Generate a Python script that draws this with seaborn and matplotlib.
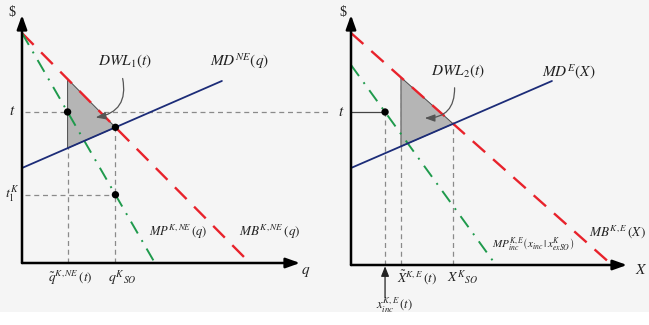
import numpy as np
import pandas as pd
import matplotlib
matplotlib.use("Agg")
import matplotlib.pyplot as plt
from matplotlib.patches import Rectangle
import seaborn as sns

# ---------------- data (axis units 0..10) ----------------
# left panel: q market
mb1_intercept, mb1_qmax = 9.27, 8.2      # MB^{K,NE}(q)
mp1_intercept, mp1_qmax = 9.27, 4.78     # MP^{K,NE}(q)
md1_start, md1_end_q, md1_end_v = 3.83, 7.19, 7.34   # MD^{NE}(q)
t1_level = 6.09                          # tax t
# right panel: X market
mb2_intercept, mb2_xmax = 9.28, 9.46     # MB^{K,E}(X)
mp2_intercept, mp2_xmax = 8.0, 5.25      # MP^{K,E}_inc
md2_start, md2_end_x, md2_end_v = 3.88, 7.28, 7.36   # MD^E(X)
t2_level = 6.12
x_tilde2 = 1.81                          # tilde X^{K,E}(t)

sns.set_theme(style="white")
plt.rcParams["font.family"] = ["Liberation Serif", "DejaVu Serif"]
plt.rcParams["mathtext.fontset"] = "stix"

RED = "#e8222b"
GREEN = "#1f9a4c"
BLUE = "#1c2c78"
GUIDE = "#8a8a8a"
BG = "#f5f5f5"

fig = plt.figure(figsize=(6.49, 3.25), dpi=100, facecolor=BG)
fig.patches.append(Rectangle((0, 0), 1, 13 / 325, transform=fig.transFigure,
                             facecolor="white", edgecolor="none", zorder=0))

axL = fig.add_axes([22 / 649, (325 - 263) / 325, 278 / 649, 248 / 325])
axR = fig.add_axes([351 / 649, (325 - 265) / 325, 276 / 649, 250 / 325])


def line_df(x0, x1, f):
    xs = np.array([x0, x1])
    return pd.DataFrame({"x": xs, "y": f(xs)})


def guide(ax, xs, ys, style="--", color=GUIDE, lw=0.9):
    ax.plot(xs, ys, linestyle=style, color=color, lw=lw, dashes=(4, 3) if style == "--" else (None, None),
            clip_on=False, zorder=2)


def panel(ax, mb_i, mb_x, mp_i, mp_x, md_s, md_ex, md_ev, t):
    ax.set_facecolor("none")
    ax.set_xlim(0, 10)
    ax.set_ylim(0, 10)
    ax.axis("off")
    mb = lambda x: mb_i * (1 - x / mb_x)
    mp = lambda x: mp_i * (1 - x / mp_x)
    slope = (md_ev - md_s) / md_ex
    md = lambda x: md_s + slope * x
    sns.lineplot(data=line_df(0, mb_x, mb), x="x", y="y", ax=ax, color=RED, lw=1.7,
                 zorder=4).lines[-1].set_dashes((7, 4.5))
    l = sns.lineplot(data=line_df(0, mp_x, mp), x="x", y="y", ax=ax, color=GREEN, lw=1.4,
                     zorder=4).lines[-1]
    l.set_dashes((7, 4, 1, 4))
    sns.lineplot(data=line_df(0, md_ex, md), x="x", y="y", ax=ax, color=BLUE, lw=1.3, zorder=4)
    # social optimum: MB = MD
    x_so = (mb_i - md_s) / (slope + mb_i / mb_x)
    return mb, mp, md, x_so


def axes_arrows(ax):
    for (x0, y0, x1, y1) in [(0, 0, 10, 0), (0, 0, 0, 10)]:
        ax.annotate("", xy=(x1, y1), xytext=(x0, y0), annotation_clip=False,
                    arrowprops=dict(arrowstyle="-|>,head_length=0.7,head_width=0.25",
                                    color="black", lw=1.8, shrinkA=0, shrinkB=0),
                    zorder=6)


# ---------------- left panel ----------------
mb, mp, md, q_so = panel(axL, mb1_intercept, mb1_qmax, mp1_intercept, mp1_qmax,
                         md1_start, md1_end_q, md1_end_v, t1_level)
q_tilde = mp1_qmax * (1 - t1_level / mp1_intercept)
t1k = mp(q_so)
axL.fill([q_tilde, q_tilde, q_so], [mb(q_tilde), md(q_tilde), md(q_so)],
         facecolor="#b5b5b5", edgecolor="#4a4a4a", lw=0.7, zorder=3)
guide(axL, [0.12, 11.0], [t1_level, t1_level])
guide(axL, [q_tilde, q_tilde], [0, mb(q_tilde)])
guide(axL, [q_so, q_so], [0, md(q_so)])
guide(axL, [0.12, q_so], [t1k, t1k])
sns.scatterplot(x=[q_tilde, q_so, q_so], y=[t1_level, md(q_so), t1k], ax=axL,
                color="black", s=28, zorder=7, edgecolor="none")
axes_arrows(axL)
axL.annotate("", xy=(2.55, 5.85), xytext=(3.6, 7.55), annotation_clip=False,
             arrowprops=dict(arrowstyle="-|>,head_length=0.5,head_width=0.18", color="#555555",
                             lw=0.9, connectionstyle="arc3,rad=-0.55"), zorder=8)
tk = dict(ha="center", va="center", color="#222222")
axL.text(3.71, 8.15, r"$DWL_1(t)$", fontsize=11, **tk)
axL.text(7.84, 8.15, r"$MD^{NE}(q)$", fontsize=11, **tk)
axL.text(5.61, 1.25, r"$MP^{K,NE}\,(q)$", fontsize=9, **tk)
axL.text(8.92, 1.25, r"$MB^{K,NE}\,(q)$", fontsize=9.5, **tk)
axL.text(10.2, -0.36, r"$q$", fontsize=11, **tk)
axL.text(-0.36, 10.1, r"\$", fontsize=10, **tk)
axL.text(-0.36, t1_level, r"$t$", fontsize=11, **tk)
axL.text(-0.36, t1k, r"$t_1^K$", fontsize=10, **tk)
axL.text(q_tilde + 0.1, -0.62, r"$\tilde{q}^{K,NE}\,(t)$", fontsize=9.5, **tk)
axL.text(q_so + 0.25, -0.62, r"$q^{K}{}_{SO}$", fontsize=10, **tk)

# ---------------- right panel ----------------
mb, mp, md, x_so = panel(axR, mb2_intercept, mb2_xmax, mp2_intercept, mp2_xmax,
                         md2_start, md2_end_x, md2_end_v, t2_level)
x_inc = mp2_xmax * (1 - t2_level / mp2_intercept)
axR.fill([x_tilde2, x_tilde2, x_so], [mb(x_tilde2), md(x_tilde2), md(x_so)],
         facecolor="#b5b5b5", edgecolor="#4a4a4a", lw=0.7, zorder=3)
axR.plot([0, x_inc], [t2_level, t2_level], color="#444444", lw=0.9, zorder=3)
guide(axR, [x_inc, x_inc], [0, t2_level])
guide(axR, [x_tilde2, x_tilde2], [0, mb(x_tilde2)])
guide(axR, [x_so, x_so], [0, md(x_so)])
sns.scatterplot(x=[x_inc], y=[t2_level], ax=axR, color="black", s=28, zorder=7,
                edgecolor="none")
axes_arrows(axR)
axR.annotate("", xy=(2.57, 5.88), xytext=(3.75, 7.2), annotation_clip=False,
             arrowprops=dict(arrowstyle="-|>,head_length=0.5,head_width=0.18", color="#555555",
                             lw=0.9, connectionstyle="arc3,rad=-0.55"), zorder=8)
axR.annotate("", xy=(x_inc, -0.05), xytext=(x_inc, -1.3), annotation_clip=False,
             arrowprops=dict(arrowstyle="-|>,head_length=0.5,head_width=0.2", color="#222222",
                             lw=0.9, shrinkA=0, shrinkB=0), zorder=8)
axR.text(3.88, 7.75, r"$DWL_2(t)$", fontsize=11, **tk)
axR.text(7.90, 7.75, r"$MD^{E}(X)$", fontsize=11, **tk)
axR.text(6.6, 0.8, r"$MP^{K,E}_{inc}\left(x_{inc}\,|\,x^{K}_{exSO}\right)$", fontsize=8, **tk)
axR.text(9.64, 1.32, r"$MB^{K,E}\,(X)$", fontsize=9.5, **tk)
axR.text(10.5, -0.2, r"$X$", fontsize=11, **tk)
axR.text(-0.3, 10.1, r"\$", fontsize=10, **tk)
axR.text(-0.36, t2_level, r"$t$", fontsize=11, **tk)
axR.text(x_tilde2 + 0.6, -0.5, r"$\tilde{X}^{K,E}\,(t)$", fontsize=9.5, **tk)
axR.text(x_so + 0.35, -0.5, r"$X^{K}{}_{SO}$", fontsize=10, **tk)
axR.text(x_inc + 0.35, -1.6, r"$x^{K,E}_{inc}\,(t)$", fontsize=9, **tk)

fig.savefig("out.png", dpi=100, facecolor=BG)
